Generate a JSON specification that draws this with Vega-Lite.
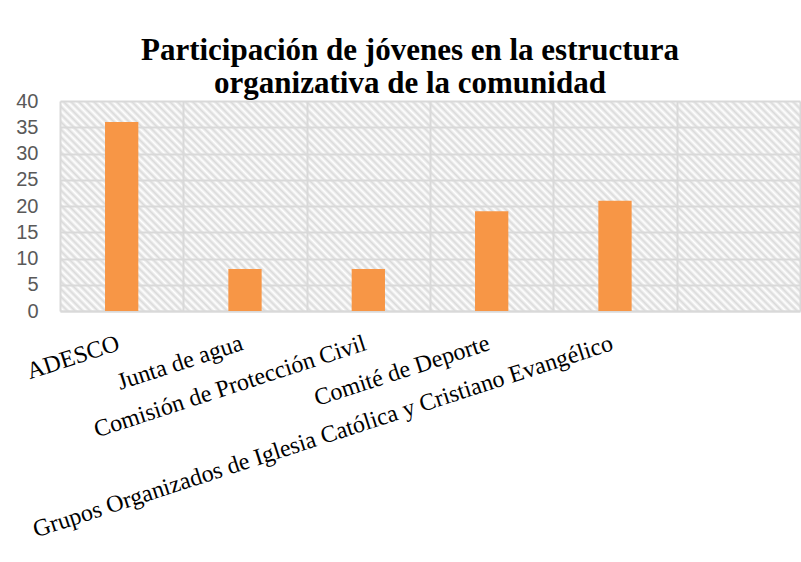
{
  "$schema": "https://vega.github.io/schema/vega-lite/v6.json",
  "width": 740,
  "height": 210,
  "autosize": "none",
  "padding": {"left": 60, "top": 101, "right": 1, "bottom": 251},
  "background": "white",
  "view": {
    "stroke": null,
    "fill": {
      "gradient": "linear",
      "x1": 0, "y1": 1, "x2": 1.1881, "y2": 0.6628,
      "stops": [
        {"offset":0.000,"color":"#dadada"},{"offset":0.004,"color":"#ffffff"},{"offset":0.008,"color":"#dadada"},{"offset":0.012,"color":"#ffffff"},{"offset":0.016,"color":"#dadada"},{"offset":0.020,"color":"#ffffff"},{"offset":0.024,"color":"#dadada"},{"offset":0.028,"color":"#ffffff"},{"offset":0.032,"color":"#dadada"},{"offset":0.036,"color":"#ffffff"},
        {"offset":0.040,"color":"#dadada"},{"offset":0.044,"color":"#ffffff"},{"offset":0.048,"color":"#dadada"},{"offset":0.052,"color":"#ffffff"},{"offset":0.056,"color":"#dadada"},{"offset":0.060,"color":"#ffffff"},{"offset":0.064,"color":"#dadada"},{"offset":0.068,"color":"#ffffff"},{"offset":0.072,"color":"#dadada"},{"offset":0.076,"color":"#ffffff"},
        {"offset":0.080,"color":"#dadada"},{"offset":0.084,"color":"#ffffff"},{"offset":0.088,"color":"#dadada"},{"offset":0.092,"color":"#ffffff"},{"offset":0.096,"color":"#dadada"},{"offset":0.100,"color":"#ffffff"},{"offset":0.104,"color":"#dadada"},{"offset":0.108,"color":"#ffffff"},{"offset":0.112,"color":"#dadada"},{"offset":0.116,"color":"#ffffff"},
        {"offset":0.120,"color":"#dadada"},{"offset":0.124,"color":"#ffffff"},{"offset":0.128,"color":"#dadada"},{"offset":0.132,"color":"#ffffff"},{"offset":0.136,"color":"#dadada"},{"offset":0.140,"color":"#ffffff"},{"offset":0.144,"color":"#dadada"},{"offset":0.148,"color":"#ffffff"},{"offset":0.152,"color":"#dadada"},{"offset":0.156,"color":"#ffffff"},
        {"offset":0.160,"color":"#dadada"},{"offset":0.164,"color":"#ffffff"},{"offset":0.168,"color":"#dadada"},{"offset":0.172,"color":"#ffffff"},{"offset":0.176,"color":"#dadada"},{"offset":0.180,"color":"#ffffff"},{"offset":0.184,"color":"#dadada"},{"offset":0.188,"color":"#ffffff"},{"offset":0.192,"color":"#dadada"},{"offset":0.196,"color":"#ffffff"},
        {"offset":0.200,"color":"#dadada"},{"offset":0.204,"color":"#ffffff"},{"offset":0.208,"color":"#dadada"},{"offset":0.212,"color":"#ffffff"},{"offset":0.216,"color":"#dadada"},{"offset":0.220,"color":"#ffffff"},{"offset":0.224,"color":"#dadada"},{"offset":0.228,"color":"#ffffff"},{"offset":0.232,"color":"#dadada"},{"offset":0.236,"color":"#ffffff"},
        {"offset":0.240,"color":"#dadada"},{"offset":0.244,"color":"#ffffff"},{"offset":0.248,"color":"#dadada"},{"offset":0.252,"color":"#ffffff"},{"offset":0.256,"color":"#dadada"},{"offset":0.260,"color":"#ffffff"},{"offset":0.264,"color":"#dadada"},{"offset":0.268,"color":"#ffffff"},{"offset":0.272,"color":"#dadada"},{"offset":0.276,"color":"#ffffff"},
        {"offset":0.280,"color":"#dadada"},{"offset":0.284,"color":"#ffffff"},{"offset":0.288,"color":"#dadada"},{"offset":0.292,"color":"#ffffff"},{"offset":0.296,"color":"#dadada"},{"offset":0.300,"color":"#ffffff"},{"offset":0.304,"color":"#dadada"},{"offset":0.308,"color":"#ffffff"},{"offset":0.312,"color":"#dadada"},{"offset":0.316,"color":"#ffffff"},
        {"offset":0.320,"color":"#dadada"},{"offset":0.324,"color":"#ffffff"},{"offset":0.328,"color":"#dadada"},{"offset":0.332,"color":"#ffffff"},{"offset":0.336,"color":"#dadada"},{"offset":0.340,"color":"#ffffff"},{"offset":0.344,"color":"#dadada"},{"offset":0.348,"color":"#ffffff"},{"offset":0.352,"color":"#dadada"},{"offset":0.356,"color":"#ffffff"},
        {"offset":0.360,"color":"#dadada"},{"offset":0.364,"color":"#ffffff"},{"offset":0.368,"color":"#dadada"},{"offset":0.372,"color":"#ffffff"},{"offset":0.376,"color":"#dadada"},{"offset":0.380,"color":"#ffffff"},{"offset":0.384,"color":"#dadada"},{"offset":0.388,"color":"#ffffff"},{"offset":0.392,"color":"#dadada"},{"offset":0.396,"color":"#ffffff"},
        {"offset":0.400,"color":"#dadada"},{"offset":0.404,"color":"#ffffff"},{"offset":0.408,"color":"#dadada"},{"offset":0.412,"color":"#ffffff"},{"offset":0.416,"color":"#dadada"},{"offset":0.420,"color":"#ffffff"},{"offset":0.424,"color":"#dadada"},{"offset":0.428,"color":"#ffffff"},{"offset":0.432,"color":"#dadada"},{"offset":0.436,"color":"#ffffff"},
        {"offset":0.440,"color":"#dadada"},{"offset":0.444,"color":"#ffffff"},{"offset":0.448,"color":"#dadada"},{"offset":0.452,"color":"#ffffff"},{"offset":0.456,"color":"#dadada"},{"offset":0.460,"color":"#ffffff"},{"offset":0.464,"color":"#dadada"},{"offset":0.468,"color":"#ffffff"},{"offset":0.472,"color":"#dadada"},{"offset":0.476,"color":"#ffffff"},
        {"offset":0.480,"color":"#dadada"},{"offset":0.484,"color":"#ffffff"},{"offset":0.488,"color":"#dadada"},{"offset":0.492,"color":"#ffffff"},{"offset":0.496,"color":"#dadada"},{"offset":0.500,"color":"#ffffff"},{"offset":0.504,"color":"#dadada"},{"offset":0.508,"color":"#ffffff"},{"offset":0.512,"color":"#dadada"},{"offset":0.516,"color":"#ffffff"},
        {"offset":0.520,"color":"#dadada"},{"offset":0.524,"color":"#ffffff"},{"offset":0.528,"color":"#dadada"},{"offset":0.532,"color":"#ffffff"},{"offset":0.536,"color":"#dadada"},{"offset":0.540,"color":"#ffffff"},{"offset":0.544,"color":"#dadada"},{"offset":0.548,"color":"#ffffff"},{"offset":0.552,"color":"#dadada"},{"offset":0.556,"color":"#ffffff"},
        {"offset":0.560,"color":"#dadada"},{"offset":0.564,"color":"#ffffff"},{"offset":0.568,"color":"#dadada"},{"offset":0.572,"color":"#ffffff"},{"offset":0.576,"color":"#dadada"},{"offset":0.580,"color":"#ffffff"},{"offset":0.584,"color":"#dadada"},{"offset":0.588,"color":"#ffffff"},{"offset":0.592,"color":"#dadada"},{"offset":0.596,"color":"#ffffff"},
        {"offset":0.600,"color":"#dadada"},{"offset":0.604,"color":"#ffffff"},{"offset":0.608,"color":"#dadada"},{"offset":0.612,"color":"#ffffff"},{"offset":0.616,"color":"#dadada"},{"offset":0.620,"color":"#ffffff"},{"offset":0.624,"color":"#dadada"},{"offset":0.628,"color":"#ffffff"},{"offset":0.632,"color":"#dadada"},{"offset":0.636,"color":"#ffffff"},
        {"offset":0.640,"color":"#dadada"},{"offset":0.644,"color":"#ffffff"},{"offset":0.648,"color":"#dadada"},{"offset":0.652,"color":"#ffffff"},{"offset":0.656,"color":"#dadada"},{"offset":0.660,"color":"#ffffff"},{"offset":0.664,"color":"#dadada"},{"offset":0.668,"color":"#ffffff"},{"offset":0.672,"color":"#dadada"},{"offset":0.676,"color":"#ffffff"},
        {"offset":0.680,"color":"#dadada"},{"offset":0.684,"color":"#ffffff"},{"offset":0.688,"color":"#dadada"},{"offset":0.692,"color":"#ffffff"},{"offset":0.696,"color":"#dadada"},{"offset":0.700,"color":"#ffffff"},{"offset":0.704,"color":"#dadada"},{"offset":0.708,"color":"#ffffff"},{"offset":0.712,"color":"#dadada"},{"offset":0.716,"color":"#ffffff"},
        {"offset":0.720,"color":"#dadada"},{"offset":0.724,"color":"#ffffff"},{"offset":0.728,"color":"#dadada"},{"offset":0.732,"color":"#ffffff"},{"offset":0.736,"color":"#dadada"},{"offset":0.740,"color":"#ffffff"},{"offset":0.744,"color":"#dadada"},{"offset":0.748,"color":"#ffffff"},{"offset":0.752,"color":"#dadada"},{"offset":0.756,"color":"#ffffff"},
        {"offset":0.760,"color":"#dadada"},{"offset":0.764,"color":"#ffffff"},{"offset":0.768,"color":"#dadada"},{"offset":0.772,"color":"#ffffff"},{"offset":0.776,"color":"#dadada"},{"offset":0.780,"color":"#ffffff"},{"offset":0.784,"color":"#dadada"},{"offset":0.788,"color":"#ffffff"},{"offset":0.792,"color":"#dadada"},{"offset":0.796,"color":"#ffffff"},
        {"offset":0.800,"color":"#dadada"},{"offset":0.804,"color":"#ffffff"},{"offset":0.808,"color":"#dadada"},{"offset":0.812,"color":"#ffffff"},{"offset":0.816,"color":"#dadada"},{"offset":0.820,"color":"#ffffff"},{"offset":0.824,"color":"#dadada"},{"offset":0.828,"color":"#ffffff"},{"offset":0.832,"color":"#dadada"},{"offset":0.836,"color":"#ffffff"},
        {"offset":0.840,"color":"#dadada"},{"offset":0.844,"color":"#ffffff"},{"offset":0.848,"color":"#dadada"},{"offset":0.852,"color":"#ffffff"},{"offset":0.856,"color":"#dadada"},{"offset":0.860,"color":"#ffffff"},{"offset":0.864,"color":"#dadada"},{"offset":0.868,"color":"#ffffff"},{"offset":0.872,"color":"#dadada"},{"offset":0.876,"color":"#ffffff"},
        {"offset":0.880,"color":"#dadada"},{"offset":0.884,"color":"#ffffff"},{"offset":0.888,"color":"#dadada"},{"offset":0.892,"color":"#ffffff"},{"offset":0.896,"color":"#dadada"},{"offset":0.900,"color":"#ffffff"},{"offset":0.904,"color":"#dadada"},{"offset":0.908,"color":"#ffffff"},{"offset":0.912,"color":"#dadada"},{"offset":0.916,"color":"#ffffff"},
        {"offset":0.920,"color":"#dadada"},{"offset":0.924,"color":"#ffffff"},{"offset":0.928,"color":"#dadada"},{"offset":0.932,"color":"#ffffff"},{"offset":0.936,"color":"#dadada"},{"offset":0.940,"color":"#ffffff"},{"offset":0.944,"color":"#dadada"},{"offset":0.948,"color":"#ffffff"},{"offset":0.952,"color":"#dadada"},{"offset":0.956,"color":"#ffffff"},
        {"offset":0.960,"color":"#dadada"},{"offset":0.964,"color":"#ffffff"},{"offset":0.968,"color":"#dadada"},{"offset":0.972,"color":"#ffffff"},{"offset":0.976,"color":"#dadada"},{"offset":0.980,"color":"#ffffff"},{"offset":0.984,"color":"#dadada"},{"offset":0.988,"color":"#ffffff"},{"offset":0.992,"color":"#dadada"},{"offset":0.996,"color":"#ffffff"},
        {"offset":1.000,"color":"#dadada"}
      ]
    }
  },
  "title": {
    "text": ["Participación de jóvenes en la estructura", "organizativa de la comunidad"],
    "font": "Liberation Serif",
    "fontSize": 31,
    "fontWeight": "bold",
    "color": "black",
    "anchor": "middle",
    "frame": "group",
    "dx": -20,
    "dy": 19,
    "lineHeight": 33,
    "offset": 10
  },
  "data": {
    "values": [
      {"organizacion": "ADESCO", "jovenes": 36},
      {"organizacion": "Junta de agua", "jovenes": 8},
      {"organizacion": "Comisión de Protección Civil", "jovenes": 8},
      {"organizacion": "Comité de Deporte", "jovenes": 19},
      {"organizacion": "Grupos Organizados de Iglesia Católica y Cristiano Evangélico", "jovenes": 21},
      {"organizacion": " ", "jovenes": null}
    ]
  },
  "mark": {"type": "bar", "color": "#f79646", "width": {"band": 0.27}},
  "encoding": {
    "x": {
      "field": "organizacion",
      "type": "nominal",
      "sort": null,
      "scale": {
        "domain": ["ADESCO", "Junta de agua", "Comisión de Protección Civil", "Comité de Deporte", "Grupos Organizados de Iglesia Católica y Cristiano Evangélico", " "],
        "paddingInner": 0,
        "paddingOuter": 0
      },
      "axis": {
        "title": null,
        "labelAngle": -18,
        "labelFont": "Liberation Serif",
        "labelFontSize": 24,
        "labelColor": "black",
        "labelPadding": 20,
        "labelOffset": -7,
        "labelLimit": 0,
        "labelOverlap": false,
        "ticks": false,
        "tickBand": "extent",
        "domain": true,
        "domainColor": "#d9d9d9",
        "domainWidth": 2,
        "grid": true,
        "gridColor": "#d9d9d9",
        "gridWidth": 2
      }
    },
    "y": {
      "field": "jovenes",
      "type": "quantitative",
      "scale": {"domain": [0, 40], "nice": false},
      "axis": {
        "title": null,
        "values": [0, 5, 10, 15, 20, 25, 30, 35, 40],
        "labelFont": "Liberation Sans",
        "labelFontSize": 20,
        "labelColor": "#595959",
        "labelPadding": 22,
        "ticks": false,
        "domain": false,
        "grid": true,
        "gridColor": "#d9d9d9",
        "gridWidth": 2
      }
    }
  }
}
